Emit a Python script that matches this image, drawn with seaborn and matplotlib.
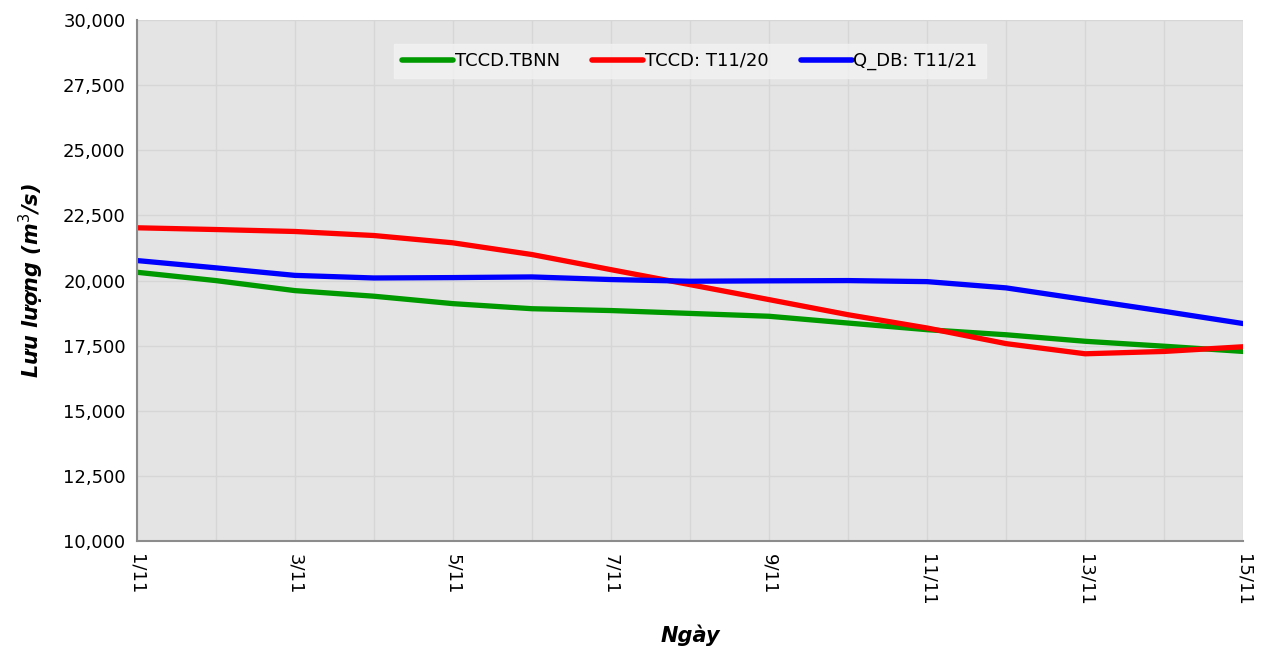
import pandas as pd
import matplotlib
matplotlib.use('Agg')
import matplotlib.pyplot as plt
import seaborn as sns
from matplotlib.ticker import MultipleLocator, FixedLocator, FuncFormatter

# ---------------------------------------------------
# data
# ---------------------------------------------------
days = list(range(1, 16))
tbnn = [20320, 20000, 19615, 19400, 19115, 18920, 18850, 18740, 18630, 18370,
        18115, 17920, 17670, 17480, 17280]
t11_20 = [22027, 21960, 21885, 21730, 21450, 21000, 20420, 19845, 19270, 18690,
          18180, 17580, 17190, 17280, 17460]
t11_21 = [20770, 20490, 20200, 20100, 20115, 20140, 20040, 19975, 19990, 20000,
          19960, 19720, 19270, 18820, 18350]
tick_days = [1, 3, 5, 7, 9, 11, 13, 15]

series_names = ['TCCD.TBNN', 'TCCD: T11/20', 'Q_DB: T11/21']
colors = ['#009900', '#ff0000', '#0000ff']

df = pd.DataFrame({
    'day': days * 3,
    'value': tbnn + t11_20 + t11_21,
    'series': [series_names[0]] * 15 + [series_names[1]] * 15 + [series_names[2]] * 15,
})

# ---------------------------------------------------
# plot
# ---------------------------------------------------
sns.set_style('white')
plt.rcParams['font.family'] = ['DejaVu Sans']
plt.rcParams['text.color'] = 'black'
plt.rcParams['axes.labelcolor'] = 'black'
plt.rcParams['xtick.color'] = 'black'
plt.rcParams['ytick.color'] = 'black'

fig = plt.figure(figsize=(12.66, 6.48), dpi=100)
ax = fig.add_axes([0.108, 0.165, 0.874, 0.804])
ax.set_facecolor('#e4e4e4')

sns.lineplot(data=df, x='day', y='value', hue='series', palette=colors,
             linewidth=3.8, ax=ax, legend=True)

ax.set_xlim(1, 15)
ax.set_ylim(10000, 30000)
ax.yaxis.set_major_locator(MultipleLocator(2500))
ax.yaxis.set_major_formatter(FuncFormatter(lambda v, p: f'{int(v):,}'))
ax.xaxis.set_major_locator(FixedLocator(tick_days))
ax.xaxis.set_minor_locator(MultipleLocator(1))
ax.xaxis.set_major_formatter(FuncFormatter(lambda v, p: f'{int(v)}/11'))
ax.tick_params(axis='x', which='major', labelsize=13, rotation=270,
               length=5, color='#8c8c8c', labelcolor='black', pad=4)
ax.tick_params(axis='x', which='minor', length=0)
ax.tick_params(axis='y', labelsize=13, length=0, pad=8, labelcolor='black')
for lbl in ax.get_xticklabels():
    lbl.set_verticalalignment('top')

ax.grid(True, which='both', axis='x', color='#d6d6d6', linewidth=1)
ax.grid(True, which='major', axis='y', color='#d6d6d6', linewidth=1)
ax.set_axisbelow(True)

for side in ['top', 'right']:
    ax.spines[side].set_visible(False)
for side in ['left', 'bottom']:
    ax.spines[side].set_color('#8c8c8c')
    ax.spines[side].set_linewidth(1.5)

ax.set_xlabel('Ngày', fontsize=15, fontweight='bold', fontstyle='italic', labelpad=14)
ax.set_ylabel('Lưu lượng (m$^3$/s)', fontsize=15, fontweight='bold', fontstyle='italic',
              labelpad=12)

leg = ax.legend(loc='upper center', bbox_to_anchor=(0.5, 0.972), ncol=3, frameon=True,
                fontsize=13, handlelength=2.8, handletextpad=0.1, columnspacing=1.8,
                borderpad=0.45, fancybox=False)
leg.get_frame().set_facecolor('#f2f2f2')
leg.get_frame().set_edgecolor('#f2f2f2')
for line in leg.get_lines():
    line.set_linewidth(4)

plt.savefig('out.png', dpi=100)
